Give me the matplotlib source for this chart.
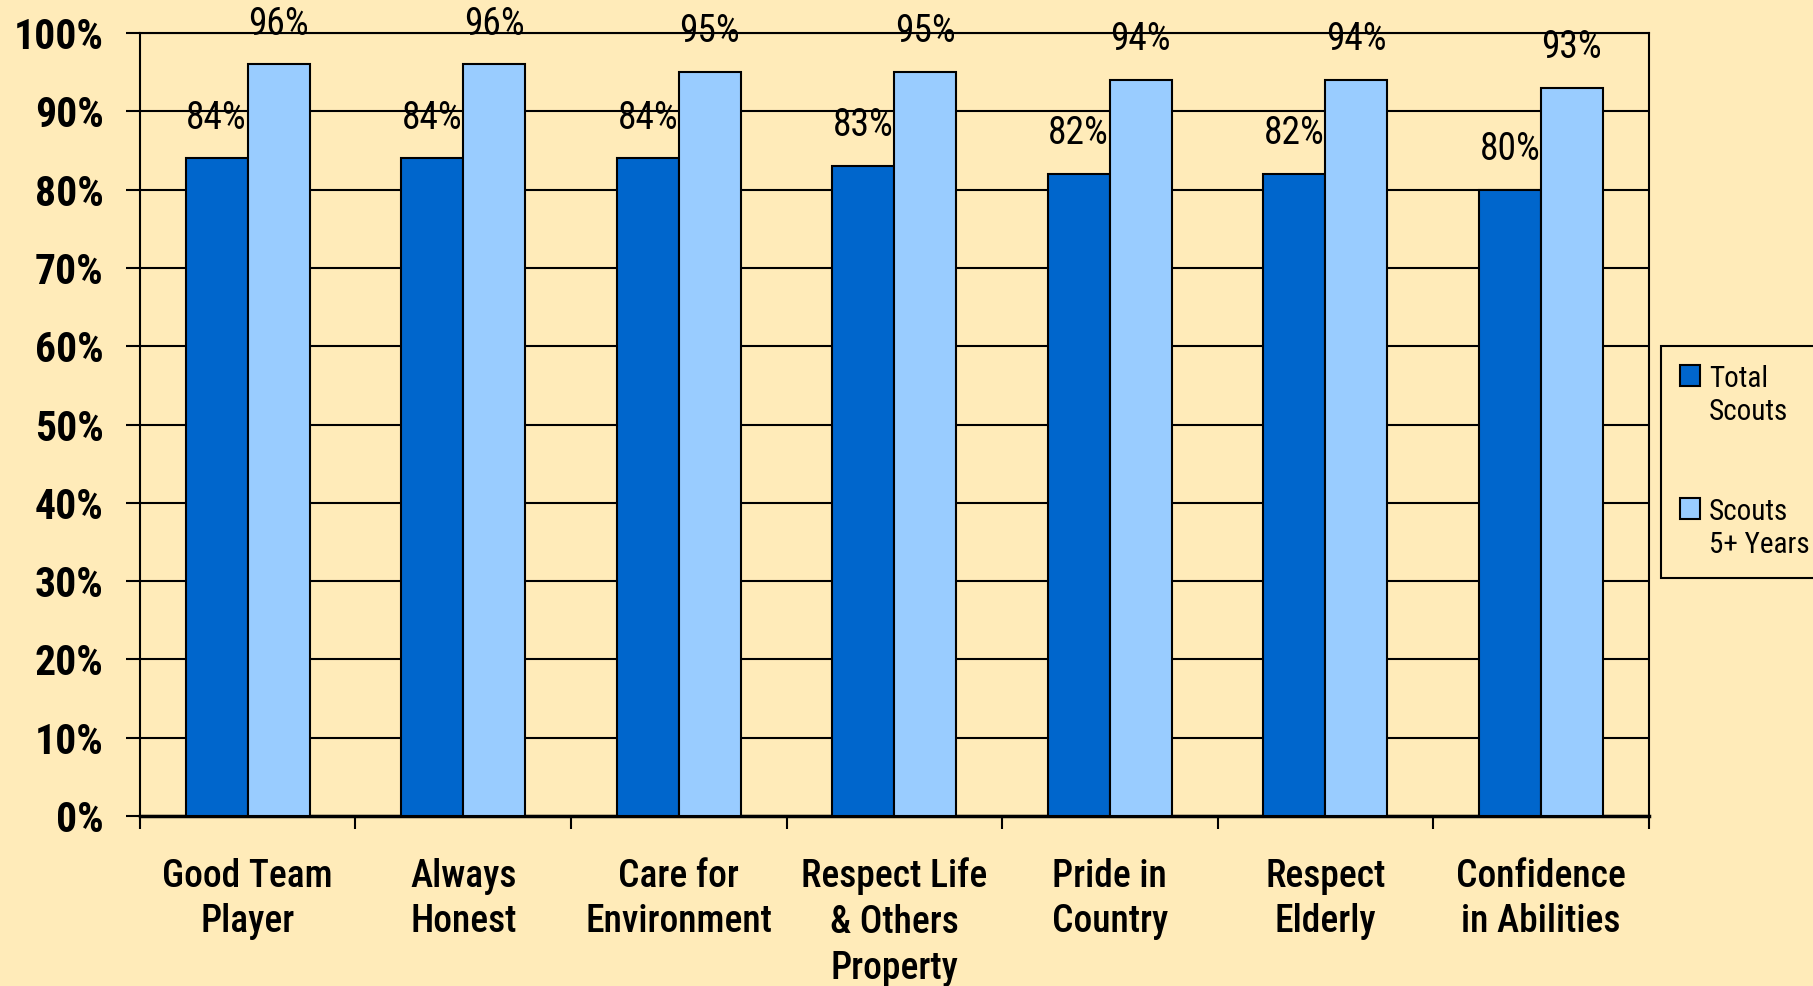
import matplotlib
matplotlib.use('Agg')
import matplotlib.pyplot as plt
from matplotlib import font_manager
import numpy as np

names = sorted({f.name for f in font_manager.fontManager.ttflist})
narrow = 'Liberation Sans Narrow' if 'Liberation Sans Narrow' in names else 'Roboto Condensed' if 'Roboto Condensed' in names else 'Liberation Sans'
plt.rcParams['font.family'] = [narrow, 'DejaVu Sans']

# data
categories = ['Good Team\nPlayer', 'Always\nHonest', 'Care for\nEnvironment',
              'Respect Life\n& Others\nProperty', 'Pride in\nCountry',
              'Respect\nElderly', 'Confidence\nin Abilities']
total_scouts = [84, 84, 84, 83, 82, 82, 80]
scouts_5_years = [96, 96, 95, 95, 94, 94, 93]
y_ticks = [0, 10, 20, 30, 40, 50, 60, 70, 80, 90, 100]

bg = '#FFEBB9'
dark = '#0066CC'
light = '#99CCFF'

fig = plt.figure(figsize=(18.13, 9.86), dpi=100, facecolor=bg)
ax = fig.add_axes([0.0772, 0.1724, 0.9318 - 0.0772 - 0.0225, 0.9665 - 0.1724])
ax.set_facecolor(bg)

x = np.arange(len(categories))
w = 0.288
b1 = ax.bar(x - w / 2, total_scouts, w, color=dark, edgecolor='black', linewidth=1.5, label='Total\nScouts', zorder=3)
b2 = ax.bar(x + w / 2, scouts_5_years, w, color=light, edgecolor='black', linewidth=1.5, label='Scouts\n5+ Years', zorder=3)

for bars, vals in [(b1, total_scouts), (b2, scouts_5_years)]:
    for r, v in zip(bars, vals):
        ax.annotate(f'{v}%', (r.get_x() + r.get_width() / 2, v), xytext=(0, 29),
                    textcoords='offset points', ha='center', va='center',
                    fontsize=27, zorder=4)

ax.set_xlim(-0.5, len(categories) - 0.5)
ax.set_ylim(0, 100)
ax.set_yticks(y_ticks)
ax.set_yticklabels([f'{t}%' for t in y_ticks], fontsize=30, fontweight='bold')
ax.yaxis.grid(True, color='black', linewidth=1.5, zorder=1)
ax.tick_params(axis='y', length=10, width=1.5, pad=16)

ax.set_xticks(x)
ax.set_xticklabels(categories, fontsize=27, fontweight='medium', linespacing=1.3)
ax.set_xticks(np.arange(len(categories) + 1) - 0.5, minor=True)
ax.tick_params(axis='x', which='major', length=0, pad=30)
ax.tick_params(axis='x', which='minor', length=9, width=1.5, direction='out')
for s in ax.spines.values():
    s.set_linewidth(1.5)
ax.spines['bottom'].set_linewidth(2.5)

leg = fig.legend(loc='center left', bbox_to_anchor=(1661 / 1813, 1 - 462 / 986),
                 fontsize=21, frameon=True, fancybox=False, edgecolor='black',
                 facecolor=bg, framealpha=1, handlelength=0.7, handleheight=0.7,
                 handletextpad=0.3, labelspacing=2.5, borderpad=0.65,
                 borderaxespad=0)
leg.get_frame().set_linewidth(1.5)
# put the swatch next to the first line of each label
for col in leg._legend_handle_box.get_children():
    for row in col.get_children():
        row.align = 'top'

fig.savefig('out.png', dpi=100, facecolor=bg)
